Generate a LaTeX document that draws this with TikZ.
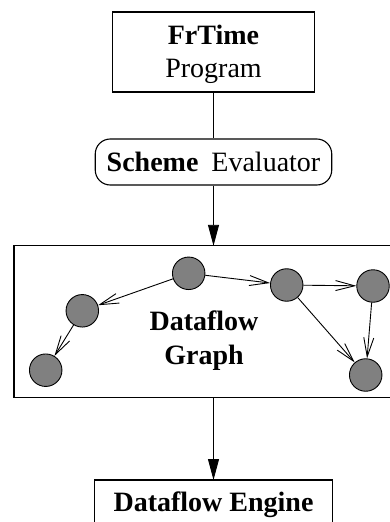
\documentclass[tikz,border=0pt]{standalone}
\usepackage{fontspec}
\setmainfont{Liberation Serif}
\usetikzlibrary{arrows.meta}
\definecolor{nodegray}{RGB}{128,128,128}
\tikzset{
  txt/.style={font=\fontsize{28pt}{34pt}\selectfont, align=center},
  box/.style={txt, draw, line width=1.1pt, rectangle, inner sep=0pt},
  rbox/.style={box, rounded corners=15pt},
  area/.style={txt, rectangle, inner sep=0pt},
  frame/.style={line width=1.1pt},
  dot/.style={circle, draw, line width=0.9pt, fill=nodegray, minimum size=32.5pt, inner sep=0pt},
  flow/.style={line width=0.9pt, -{Triangle[length=21pt,width=11pt]}},
  edge/.style={line width=0.9pt, -{Straight Barb[length=19pt,width=10pt,line width=0.9pt]}}
}
\begin{document}
\begin{tikzpicture}[x=1pt,y=-1pt]
  \useasboundingbox (0,0) rectangle (390,522);

  % pipeline stages
  \node[box, font=\fontsize{28pt}{33pt}\selectfont, text depth=2pt, minimum width=202pt, minimum height=80pt] (frtime) at (213.5,52) {\textbf{FrTime}\\Program};
  \node[rbox, minimum width=236.5pt, minimum height=46pt] (scheme) at (213.5,162) {\textbf{Scheme}\hspace{13pt}Evaluator};
  \node[area, minimum width=390pt, minimum height=151pt, anchor=west] (graph) at (14,321.5) {};
  \node[area, minimum width=237pt, anchor=north, text height=20pt, text depth=7pt, inner ysep=11pt] (engine) at (213.5,480) {\textbf{Dataflow Engine}};

  % frames running off the right and bottom edges
  \draw[frame] (graph.north east) -- (graph.north west) -- (graph.south west) -- (graph.south east);
  \draw[frame] (engine.south west) -- (engine.north west) -- (engine.north east) -- (engine.south east);

  % dataflow graph inside the frame
  \node[txt, font=\fontsize{28pt}{34pt}\selectfont\bfseries] (glabel) at (204,341) {Dataflow\\Graph};
  \node[dot] (a) at (188.7,273.3) {};
  \node[dot] (b) at (286.7,285) {};
  \node[dot] (c) at (373,286) {};
  \node[dot] (d) at (82.3,310.8) {};
  \node[dot] (e) at (45.7,370.2) {};
  \node[dot] (f) at (365.7,375) {};

  \draw[edge] (a) -- (d);
  \draw[edge] (d) -- (e);
  \draw[edge] (a) -- (b);
  \draw[edge] (b) -- (c);
  \draw[edge] (b) -- (f);
  \draw[edge] (c) -- (f);

  % connectors between stages
  \draw[line width=0.9pt] (frtime) -- (scheme);
  \draw[flow] (scheme) -- (graph.north -| scheme.south);
  \draw[flow] (graph.south -| engine.north) -- (engine);
\end{tikzpicture}
\end{document}
